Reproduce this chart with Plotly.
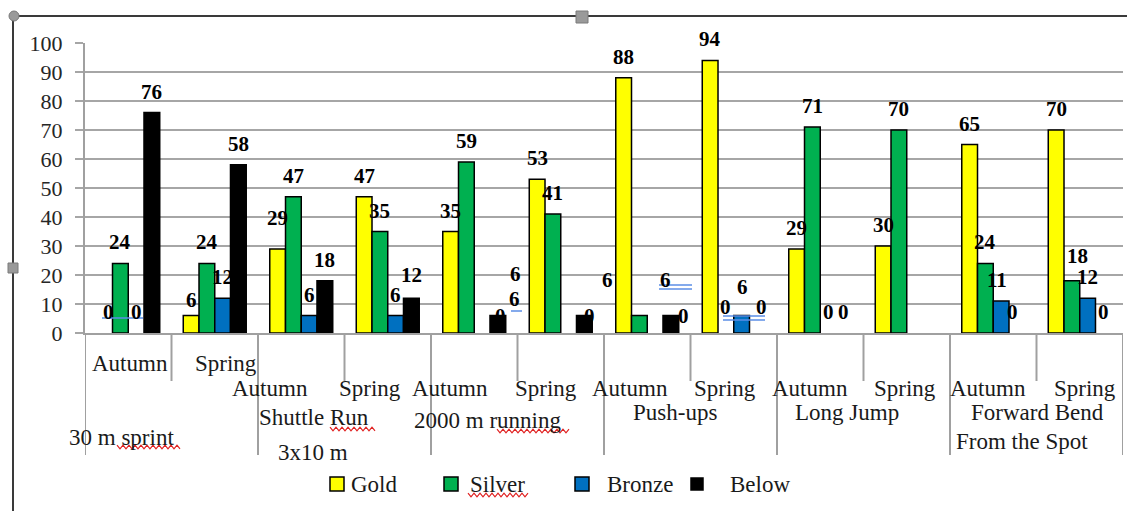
import plotly.graph_objects as go

# ---- data ----
seasons = ["Autumn", "Spring"] * 6
tests = ["30 m sprint", "Shuttle Run", "3x10 m", "2000 m running", "Push-ups",
         "Long Jump", "Forward Bend", "From the Spot"]
series_names = ["Gold", "Silver", "Bronze", "Below"]
gold = [0, 6, 29, 47, 35, 53, 88, 94, 29, 30, 65, 70]
silver = [24, 24, 47, 35, 59, 41, 6, 0, 71, 70, 24, 18]
bronze = [0, 12, 6, 6, 0, 0, 0, 6, 0, None, 11, 12]
below = [76, 58, 18, 12, 6, 6, 6, 0, 0, None, 0, 0]
y_ticks = list(range(0, 101, 10))

colors = ["#FFFF00", "#00B050", "#0070C0", "#000000"]
series = [gold, silver, bronze, below]

W, H = 1127, 511
L, R, T, B = 85, 1123, 43, 333  # plot area in pixels

def px(x):
    return (x - L) / (R - L)

def py(y):
    return (B - y) / (B - T)

SERIF = "Liberation Serif"
BAR_W = 0.182
OFF0 = -2 * BAR_W

fig = go.Figure()
cats = list(range(len(seasons)))
for i, (name, vals, col) in enumerate(zip(series_names, series, colors)):
    # zero-height bars get no outline so they leave no mark on the axis
    widths = [0 if (v is None or v == 0) else 1.5 for v in vals]
    fig.add_trace(go.Bar(
        x=cats, y=vals, name=name, width=BAR_W, offset=OFF0 + i * BAR_W,
        marker=dict(color=col, line=dict(color="#000000", width=widths)),
        showlegend=False, hoverinfo="skip"))

# value labels (pixel nudges where labels were moved by hand)
nudge = {
    (0, 0): (4, 21), (0, 1): (0, 16), (0, 2): (0, 31), (3, 3): (0, 23),
    (2, 4): (18, 17), (3, 4): (17, 17), (2, 5): (21, 17), (3, 5): (-69, 42),
    (1, 6): (-32, 36), (2, 6): (28, 17), (3, 6): (-5, 36),
    (1, 7): (0, 26), (2, 7): (1, 29), (3, 7): (4, 26),
    (2, 10): (-4, 21), (3, 10): (-4, 21), (1, 11): (6, 25),
}
annotations = []
for i, vals in enumerate(series):
    for c, v in enumerate(vals):
        if v is None:
            continue
        dx, dy = nudge.get((i, c), (0, 21))
        annotations.append(dict(
            x=c + OFF0 + i * BAR_W + BAR_W / 2, y=v, xref="x", yref="y",
            text="<b>%d</b>" % v, showarrow=False, xshift=dx, yshift=dy,
            xanchor="center", yanchor="middle",
            font=dict(family=SERIF, size=21, color="#000000")))

# category labels (season row and test row)
season_pos = [(130, 363), (226, 363), (270, 388), (370, 388), (450, 388), (546, 388),
              (630, 388), (725, 388), (810, 388), (905, 388), (988, 388), (1085, 388)]
test_pos = [(121, 437), (314, 417), (313, 452), (487, 420), (675, 412),
            (847, 412), (1037, 412), (1022, 441)]
for text, (x, y) in list(zip(seasons, season_pos)) + list(zip(tests, test_pos)):
    annotations.append(dict(
        x=px(x), y=py(y), xref="paper", yref="paper", text=text, showarrow=False,
        xanchor="center", yanchor="middle",
        font=dict(family=SERIF, size=23, color="#1a1a1a")))

# legend
legend_sq = [(337, 14), (451, 14), (582, 14), (697, 12)]
legend_tx = [349, 468, 605, 728]
shapes = []
for name, col, (cx, s), tx in zip(series_names, colors, legend_sq, legend_tx):
    shapes.append(dict(type="rect", xref="paper", yref="paper",
                       x0=px(cx - s / 2), x1=px(cx + s / 2),
                       y0=py(484 + s / 2), y1=py(484 - s / 2),
                       fillcolor=col, line=dict(color="#000000", width=1.5)))
    annotations.append(dict(
        x=px(tx), y=py(484), xref="paper", yref="paper", text=name, showarrow=False,
        xanchor="left", yanchor="middle",
        font=dict(family=SERIF, size=23, color="#1a1a1a")))

# category divider ticks below the axis
for k in range(13):
    bottom = 455 if k % 2 == 0 else 381
    shapes.append(dict(type="line", xref="x", yref="paper",
                       x0=k - 0.5, x1=k - 0.5, y0=0, y1=py(bottom),
                       line=dict(color="#a0a0a0", width=2)))

# proofing marks: red wavy underlines
def wavy(x0, x1, y, amp=1.8, step=3.0):
    pts = []
    x = x0
    up = True
    while x <= x1:
        pts.append((x, y - amp if up else y + amp))
        up = not up
        x += step
    d = "M " + " L ".join(f"{px(a):.5f},{py(b):.5f}" for a, b in pts)
    return dict(type="path", xref="paper", yref="paper", path=d,
                line=dict(color="#e02020", width=1.2))

for x0, x1, y in [(117, 180, 447), (330, 376, 429), (497, 570, 431), (468, 528, 495)]:
    shapes.append(wavy(x0, x1, y))

# proofing marks: blue underlines
for x0, x1, y in [(102, 143, 318), (511, 522, 311), (659, 692, 285), (659, 692, 289),
                  (723, 765, 316), (723, 765, 320)]:
    shapes.append(dict(type="line", xref="paper", yref="paper",
                       x0=px(x0), x1=px(x1), y0=py(y), y1=py(y),
                       line=dict(color="#5b8ee6", width=1.5)))

# object frame with selection handles
shapes.append(dict(type="line", xref="paper", yref="paper",
                   x0=px(13), x1=px(1127), y0=py(16), y1=py(16),
                   line=dict(color="#3a3a3a", width=2)))
shapes.append(dict(type="line", xref="paper", yref="paper",
                   x0=px(13), x1=px(13), y0=py(16), y1=py(511),
                   line=dict(color="#3a3a3a", width=2)))
for hx, hy, s, kind in [(14, 16, 10, "circle"), (582, 17, 12, "rect"), (13, 268, 10, "rect")]:
    shapes.append(dict(type=kind, xref="paper", yref="paper",
                       x0=px(hx - s / 2), x1=px(hx + s / 2),
                       y0=py(hy + s / 2), y1=py(hy - s / 2),
                       fillcolor="#9a9a9a", line=dict(color="#7a7a7a", width=1)))

fig.update_layout(
    width=W, height=H,
    margin=dict(l=L, r=W - R, t=T, b=H - B, pad=0),
    paper_bgcolor="#ffffff", plot_bgcolor="#ffffff",
    barmode="overlay",
    showlegend=False,
    font=dict(family=SERIF),
    annotations=annotations,
    shapes=shapes,
    xaxis=dict(range=[-0.5, 11.5], showticklabels=False, ticks="", showgrid=False,
               zeroline=False, showline=True, linecolor="#a0a0a0", linewidth=2,
               fixedrange=True),
    yaxis=dict(range=[0, 100], tickvals=y_ticks, showgrid=True, gridcolor="#a6a6a6",
               gridwidth=2, zeroline=False, showline=True, linecolor="#a0a0a0",
               linewidth=2, ticks="outside", ticklen=8, tickwidth=2, tickcolor="#a6a6a6",
               ticklabelstandoff=8,
               tickfont=dict(family=SERIF, size=22, color="#262626"), fixedrange=True),
)

fig.write_html("out.html")
